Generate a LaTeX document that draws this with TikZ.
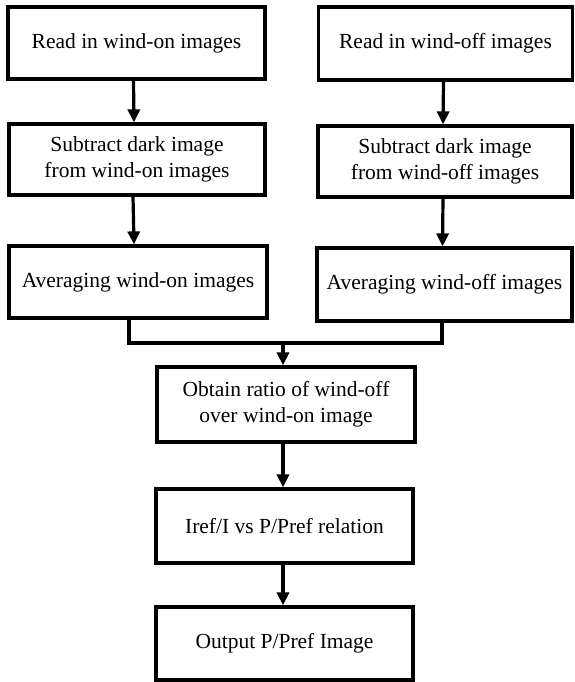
\documentclass[tikz,border=0pt]{standalone}
\usepackage{fontspec}
\setmainfont{Liberation Serif}
\usetikzlibrary{arrows.meta}
\begin{document}
\begin{tikzpicture}[x=1pt,y=-1pt,
  stepbox/.style={draw, line width=3.2pt, align=center, inner sep=0pt,
    font=\fontsize{21.5}{26}\selectfont},
  link/.style={line width=3.2pt},
  arr/.style={link, -{Triangle[length=13pt,width=12pt]}}]
\useasboundingbox (0,0) rectangle (574,682);
\node[stepbox, minimum width=257, minimum height=72] (r1) at (136.5,43) {Read in wind-on images};
\node[stepbox, minimum width=254, minimum height=73] (r2) at (445.5,43.5) {Read in wind-off images};
\node[stepbox, minimum width=256, minimum height=71] (s1) at (137,159.5) {Subtract dark image\\from wind-on images};
\node[stepbox, minimum width=254, minimum height=71] (s2) at (445,161.5) {Subtract dark image\\from wind-off images};
\node[stepbox, minimum width=258, minimum height=72] (a1) at (138,282) {Averaging wind-on images};
\node[stepbox, minimum width=255, minimum height=73] (a2) at (444.5,284.5) {Averaging wind-off images};
\node[stepbox, minimum width=258, minimum height=75] (o) at (286,404.5) {Obtain ratio of wind-off\\over wind-on image};
\node[stepbox, minimum width=257, minimum height=74] (i) at (284.5,526) {Iref/I vs P/Pref relation};
\node[stepbox, minimum width=257, minimum height=73] (out) at (284.5,643.5) {Output P/Pref Image};
\draw[arr] ([xshift=-3]r1.south) -- ([xshift=-3]s1.north);
\draw[arr] ([xshift=-2]r2.south) -- ([xshift=-2]s2.north);
\draw[arr] ([xshift=-4]s1.south) -- ([xshift=-4]a1.north);
\draw[arr] ([xshift=-2]s2.south) -- ([xshift=-2]a2.north);
\coordinate (ml) at (129,343);
\coordinate (mr) at (442,343);
\coordinate (mc) at (283,343);
\draw[link] (a1.south -| ml) -- (ml) -- (mr) -- (a2.south -| mr);
\draw[arr] (mc) -- (o.north -| mc);
\draw[arr] (o.south -| mc) -- (i.north -| mc);
\draw[arr] (i.south -| mc) -- (out.north -| mc);
\end{tikzpicture}
\end{document}
